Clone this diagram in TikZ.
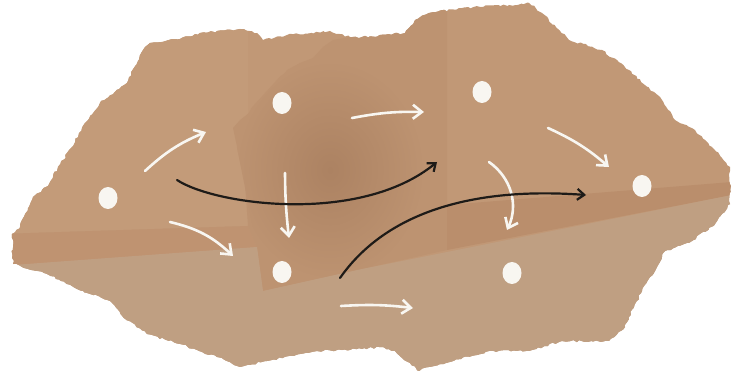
\documentclass[tikz,border=0pt]{standalone}
\usepackage{xcolor}
\usepackage{tikz}
\usetikzlibrary{arrows.meta,decorations.pathmorphing,shapes.geometric}
\definecolor{kraft}{RGB}{193,152,118}
\definecolor{kraftlight}{RGB}{195,155,121}
\definecolor{kraftmid}{RGB}{189,147,113}
\definecolor{kraftdeep}{RGB}{172,130,98}
\definecolor{kraftband}{RGB}{191,147,113}
\definecolor{kraftdark}{RGB}{186,142,108}
\definecolor{kraftgrey}{RGB}{191,159,130}
\definecolor{chalkwhite}{RGB}{248,246,241}
\definecolor{inkblack}{RGB}{30,27,24}
\tikzstyle{spot}=[ellipse,fill=chalkwhite,minimum width=19pt,minimum height=22pt,inner sep=0pt]
\tikzstyle{chalk}=[-{Straight Barb[length=9pt,width=14pt]},line width=2.6pt,draw=chalkwhite,line cap=round]
\tikzstyle{ink}=[-{Straight Barb[length=7pt,width=11pt]},line width=2.2pt,draw=inkblack,line cap=round]
\tikzstyle{torn}=[decorate,decoration={random steps,segment length=3pt,amplitude=1.1pt}]
\newcommand{\paperedge}{(150,43) -- (180,39) -- (200,33) -- (240,29) -- (257,33) -- (263,40)
  -- (287,35) -- (330,31) -- (350,37) -- (362,37) -- (405,33) -- (415,20) -- (429,13)
  -- (462,8) -- (509,5) -- (529,3) -- (542,13) -- (569,40) -- (602,50) -- (629,70)
  -- (662,100) -- (675,120) -- (695,130) -- (712,147) -- (730,167) -- (730,204)
  -- (715,224) -- (692,241) -- (665,251) -- (655,271) -- (642,291) -- (629,317)
  -- (625,327) -- (609,341) -- (562,341) -- (529,351) -- (489,351) -- (429,367)
  -- (419,371) -- (395,351) -- (379,347) -- (362,349) -- (317,351) -- (267,361)
  -- (240,367) -- (217,357) -- (180,344) -- (147,334) -- (123,317) -- (110,301)
  -- (83,291) -- (47,274) -- (13,264) -- (12,234) -- (20,227) -- (33,197) -- (48,186)
  -- (58,167) -- (72,147) -- (85,123) -- (100,103) -- (127,83) -- (143,50) -- cycle}

\begin{document}
\begin{tikzpicture}[x=1pt,y=-1pt]
  \fill[white] (0,0) rectangle (732,374);
  \useasboundingbox (0,0) rectangle (732,374);
  % torn paper
  \pgfmathsetseed{11}
  \fill[kraft,torn] \paperedge;
  \begin{scope}
    \pgfmathsetseed{11}
    \clip[torn] \paperedge;
    \fill[kraftlight] (0,0) -- (248,0) -- (248,226) -- (0,234) -- cycle;
    \fill[kraftband] (0,234) -- (248,226) -- (257,247) -- (0,266) -- cycle;
    \fill[kraftmid] (352,0) -- (350,37) -- (333,40) -- (323,47) -- (313,58) -- (300,63)
      -- (287,70) -- (280,80) -- (277,90) -- (267,100) -- (253,110) -- (240,120)
      -- (233,128) -- (245,184) -- (248,226) -- (257,247) -- (263,291) -- (362,269)
      -- (447,250) -- (447,0) -- cycle;
    \begin{scope}
      \clip (350,0) -- (233,128) -- (257,247) -- (263,291) -- (447,250) -- (447,0) -- cycle;
      \shade[inner color=kraftdeep,outer color=kraftmid] (330,170) ellipse (95 and 110);
    \end{scope}
    \fill[kraftdark] (447,205) -- (732,182) -- (732,195) -- (447,250) -- cycle;
    \fill[kraftgrey] (0,266) -- (257,247) -- (263,291) -- (362,269) -- (732,195)
      -- (732,374) -- (0,374) -- cycle;
  \end{scope}
  % dots
  \node[spot] (lft) at (108,198) {};
  \node[spot] (topl) at (282,103) {};
  \node[spot] (topr) at (482,92) {};
  \node[spot] (rgt) at (642,186) {};
  \node[spot] (botl) at (282,272) {};
  \node[spot] (botr) at (512,273) {};
  % arrow ends
  \coordinate (ab1) at (145,171);  \coordinate (ab2) at (206,132);
  \coordinate (ae1) at (170,222);  \coordinate (ae2) at (233,256);
  \coordinate (be1) at (285,173);  \coordinate (be2) at (289,238);
  \coordinate (bc1) at (352,118);  \coordinate (bc2) at (424,112);
  \coordinate (cd1) at (548,128);  \coordinate (cd2) at (609,167);
  \coordinate (cf1) at (489,162);  \coordinate (cf2) at (507,230);
  \coordinate (ef1) at (341,306);  \coordinate (ef2) at (413,308);
  \coordinate (k11) at (177,180);  \coordinate (k12) at (437,162);
  \coordinate (k21) at (340,278);  \coordinate (k22) at (586,195);
  % white arrows
  \draw[chalk] (ab1) to[bend left=10] (ab2);
  \draw[chalk] (ae1) to[bend left=15] (ae2);
  \draw[chalk] (be1) to[bend right=3] (be2);
  \draw[chalk] (bc1) to[bend left=6] (bc2);
  \draw[chalk] (cd1) to[bend left=8] (cd2);
  \draw[chalk] (cf1) to[bend left=40] (cf2);
  \draw[chalk] (ef1) to[bend left=5] (ef2);
  % black arrows
  \draw[ink] (k11) .. controls (215,205) and (360,225) .. (k12);
  \draw[ink] (k21) .. controls (382,218) and (462,186) .. (k22);
\end{tikzpicture}
\end{document}
